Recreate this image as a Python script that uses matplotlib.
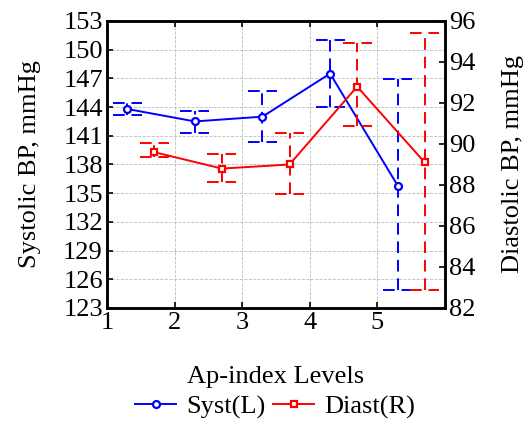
import numpy as np
import matplotlib.pyplot as plt

plt.rcParams['font.family'] = ['Liberation Serif', 'DejaVu Serif']
plt.rcParams['grid.linestyle'] = '--'
plt.rcParams['grid.linewidth'] = 0.6

# Ap-index levels (points are offset left/right of each level)
levels = [1, 2, 3, 4, 5]
syst_x = [1.3, 2.3, 3.3, 4.3, 5.3]
diast_x = [1.7, 2.7, 3.7, 4.7, 5.7]

# systolic BP (left axis)
syst = [143.8, 142.5, 143.0, 147.5, 135.8]
syst_hi = [144.4, 143.6, 145.7, 151.0, 146.9]
syst_lo = [143.2, 141.3, 140.4, 144.0, 124.9]

# diastolic BP (right axis)
diast = [89.6, 88.8, 89.0, 92.8, 89.1]
diast_hi = [90.05, 89.5, 90.55, 94.95, 95.4]
diast_lo = [89.35, 88.15, 87.55, 90.9, 82.9]

left_ticks = np.arange(123, 154, 3)
right_ticks = np.arange(82, 97, 2)

fs = 19

fig = plt.figure(figsize=(5.29, 4.23), dpi=100)
ax = fig.add_axes([0.2023, 0.2719, 0.6389, 0.6785])
ax2 = ax.twinx()

cap = 0.215
dash = (0, (6, 3.5))


def draw(a, x, y, lo, hi, color, marker, label):
    a.vlines(x, lo, hi, colors=color, linestyles=dash, linewidth=1.4, zorder=2)
    xs = np.array(x)
    a.hlines(hi, xs - cap, xs + cap, colors=color, linestyles=dash, linewidth=1.4, zorder=2)
    a.hlines(lo, xs - cap, xs + cap, colors=color, linestyles=dash, linewidth=1.4, zorder=2)
    ln, = a.plot(x, y, color=color, marker=marker, markersize=5, markerfacecolor='white',
                 markeredgewidth=1.6, linewidth=1.4, label=label, zorder=3)
    return ln


l1 = draw(ax, syst_x, syst, syst_lo, syst_hi, 'blue', 'o', 'Syst(L)')
l2 = draw(ax2, diast_x, diast, diast_lo, diast_hi, 'red', 's', 'Diast(R)')

ax.set_xlim(1, 6)
ax.set_ylim(123, 153)
ax2.set_ylim(82, 96)
ax.set_xticks(levels)
ax.set_yticks(left_ticks)
ax2.set_yticks(right_ticks)
ax.grid(True, color='#bdbdbd')

for a in (ax, ax2):
    a.tick_params(direction='in', labelsize=fs, width=1.2, length=4, pad=3)
    for s in a.spines.values():
        s.set_linewidth(1.8)
ax.tick_params(top=True)

ax.set_xlabel('Ap-index Levels', fontsize=fs, labelpad=23)
ax.set_ylabel('Systolic BP, mmHg', fontsize=fs, labelpad=16)
ax2.set_ylabel('Diastolic BP, mmHg', fontsize=fs, labelpad=19)

fig.legend(handles=[l1, l2], loc='lower center', bbox_to_anchor=(0.52, -0.028), ncol=2,
           frameon=False, fontsize=fs, handlelength=1.55, handletextpad=0.38,
           columnspacing=0.3, borderaxespad=0.2)

fig.savefig('out.png', dpi=100)
